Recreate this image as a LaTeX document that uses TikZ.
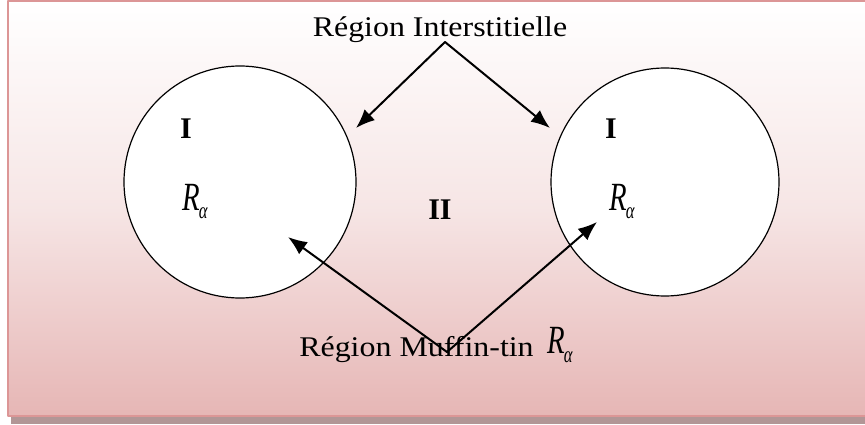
\documentclass[tikz,border=0pt]{standalone}
\usepackage{fontspec}
\setmainfont{Liberation Serif}
\newfontfamily\widefont[FakeStretch=1.12]{Liberation Serif}
\newfontfamily\narrowfont[FakeStretch=0.72]{Liberation Serif}
\usetikzlibrary{arrows.meta}
\definecolor{boxpink}{RGB}{230,182,181}
\definecolor{framepink}{RGB}{220,150,150}
\definecolor{shadowgray}{RGB}{178,150,150}
\newcommand{\ralpha}{{\narrowfont\itshape\fontsize{40}{42}\selectfont R\kern-1pt\raisebox{-9pt}{\fontsize{23}{25}\selectfont α}}}
\begin{document}
\begin{tikzpicture}[x=1pt,y=-1pt,line cap=round,line join=round,
  label/.style={inner sep=0pt,anchor=base,font=\widefont\fontsize{28.5}{32}\selectfont},
  roman/.style={inner sep=0pt,anchor=base,font=\bfseries\fontsize{30}{32}\selectfont},
  radius/.style={inner sep=0pt,anchor=base west},
  pointer/.style={line width=2pt,-{Latex[length=19pt,width=15pt]}}]
  \useasboundingbox (0,0) rectangle (865,425);
  % frame with shadow
  \fill[shadowgray] (11,6) rectangle (875,424);
  \shade[top color=white,bottom color=boxpink,middle color=boxpink!35] (8,1) rectangle (870,416);
  \draw[framepink,line width=1.5pt] (8,1) rectangle (870,416);
  % muffin-tin spheres
  \draw[fill=white,line width=1.2pt] (240,182) circle (116);
  \draw[fill=white,line width=1.2pt] (665,182) circle (114);
  \node[roman] (left I) at (186,139) {I};
  \node[roman] (right I) at (611,139) {I};
  \node[roman] (II) at (440,219) {II};
  \node[radius] (left R) at (182,210) {\ralpha};
  \node[radius] (right R) at (609,210) {\ralpha};
  % labels
  \node[label] (inter) at (440,37) {Région Interstitielle};
  \node[label] (muffin) at (416.5,356) {Région Muffin-tin};
  \node[radius] (muffin R) at (547,353) {\ralpha};
  \coordinate (top fork) at (445,42);
  \coordinate (bottom fork) at (447,352);
  \coordinate (left gap) at (356,128);
  \coordinate (right gap) at (550,128);
  \coordinate (left sphere) at (288,237);
  \coordinate (right sphere) at (597,222);
  \draw[pointer] (top fork) -- (left gap);
  \draw[pointer] (top fork) -- (right gap);
  \draw[pointer] (bottom fork) -- (left sphere);
  \draw[pointer] (bottom fork) -- (right sphere);
\end{tikzpicture}
\end{document}
